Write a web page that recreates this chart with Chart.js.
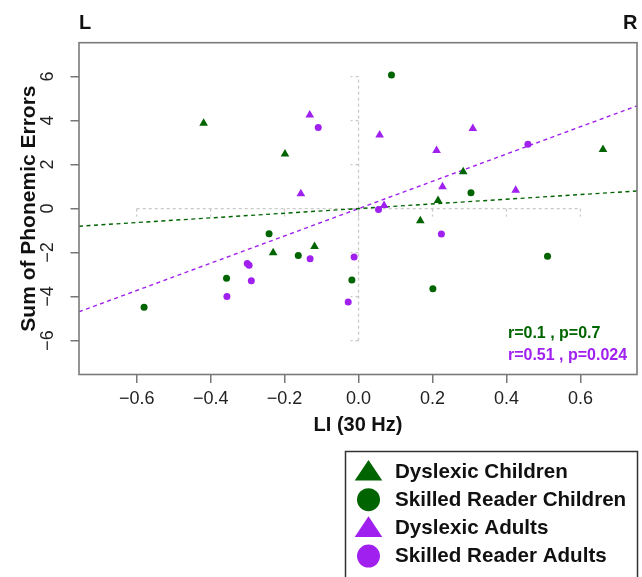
<!DOCTYPE html>
<html><head><meta charset="utf-8">
<script src="https://cdn.jsdelivr.net/npm/chart.js@4/dist/chart.umd.min.js"></script>
<style>html,body{margin:0;padding:0;background:#fff;}canvas{display:block;}</style>
</head><body>
<canvas id="c" width="642" height="577"></canvas>
<script>
// ---- data ----
const seriesLabels = ['Dyslexic Children', 'Skilled Reader Children', 'Dyslexic Adults', 'Skilled Reader Adults'];

const dysChildrenX = [-0.419, -0.199, -0.231, -0.119, 0.283, 0.215, 0.167, 0.661];
const dysChildrenY = [3.88, 2.48, -2.01, -1.72, 1.67, 0.37, -0.55, 2.69];

const skilledChildrenX = [0.089, 0.304, -0.242, -0.163, -0.357, -0.580, -0.018, 0.201, 0.511];
const skilledChildrenY = [6.07, 0.72, -1.14, -2.13, -3.16, -4.48, -3.25, -3.64, -2.16];

const dysAdultsX = [-0.132, -0.156, 0.057, 0.211, 0.309, 0.227, 0.425, 0.069];
const dysAdultsY = [4.25, 0.67, 3.34, 2.64, 3.64, 0.99, 0.83, 0.14];

const skilledAdultsX = [-0.109, 0.458, 0.054, 0.224, -0.012, -0.131, -0.301, -0.296, -0.290, -0.356, -0.028];
const skilledAdultsY = [3.69, 2.92, -0.04, -1.16, -2.20, -2.28, -2.49, -2.58, -3.28, -3.99, -4.24];

// fitted (dashed) lines, endpoints read at the plot edges
const childFitX = [-0.756, 0.753];
const childFitY = [-0.80, 0.80];
const adultFitX = [-0.756, 0.753];
const adultFitY = [-4.69, 4.67];

const xTicks = [-0.6, -0.4, -0.2, 0, 0.2, 0.4, 0.6];
const yTicks = [-6, -4, -2, 0, 2, 4, 6];
const xRange = [-0.756, 0.753];
const yRange = [-7.54, 7.54];

const statLabels = ['r=0.1 , p=0.7', 'r=0.51 , p=0.024'];
const sideLabels = ['L', 'R'];
const xTitle = 'LI (30 Hz)';
const yTitle = 'Sum of Phonemic Errors';

// ---- styling ----
const GREEN = '#006400';
const PURPLE = '#a020f0';
const FONT = "'Liberation Sans', Arial, Helvetica, sans-serif";
Chart.defaults.font.family = FONT;

const zip = (xs, ys) => xs.map((x, i) => ({x: x, y: ys[i]}));
const minus = s => s.replace('-', '\u2212');

const pointSets = [
  {label: seriesLabels[0], data: zip(dysChildrenX, dysChildrenY), color: GREEN, style: 'triangle'},
  {label: seriesLabels[1], data: zip(skilledChildrenX, skilledChildrenY), color: GREEN, style: 'circle'},
  {label: seriesLabels[2], data: zip(dysAdultsX, dysAdultsY), color: PURPLE, style: 'triangle'},
  {label: seriesLabels[3], data: zip(skilledAdultsX, skilledAdultsY), color: PURPLE, style: 'circle'}
];

const datasets = pointSets.map(s => ({
  type: 'scatter', label: s.label, data: s.data,
  pointStyle: s.style, pointRadius: s.style === 'triangle' ? 5 : 3.5,
  backgroundColor: s.color, borderColor: s.color, pointBorderWidth: 0,
  showLine: false, order: 1
}));
datasets.push({
  type: 'scatter', label: 'childFit', data: zip(childFitX, childFitY), showLine: true,
  borderColor: GREEN, borderWidth: 1.4, borderDash: [4, 3.5], pointRadius: 0, order: 2
});
datasets.push({
  type: 'scatter', label: 'adultFit', data: zip(adultFitX, adultFitY), showLine: true,
  borderColor: PURPLE, borderWidth: 1.4, borderDash: [4, 3.5], pointRadius: 0, order: 2
});

function line(ctx, x1, y1, x2, y2) { ctx.beginPath(); ctx.moveTo(x1, y1); ctx.lineTo(x2, y2); ctx.stroke(); }

const decor = {
  id: 'decor',
  beforeDatasetsDraw(chart) {
    const {ctx} = chart; const xs = chart.scales.x, ys = chart.scales.y;
    ctx.save();
    ctx.strokeStyle = '#c9c9c9'; ctx.lineWidth = 1.3; ctx.setLineDash([3, 3]);
    const x0 = xs.getPixelForValue(0), y0 = ys.getPixelForValue(0);
    line(ctx, x0, ys.getPixelForValue(yTicks[0]), x0, ys.getPixelForValue(yTicks[yTicks.length - 1]));
    yTicks.forEach(v => { const p = ys.getPixelForValue(v); line(ctx, x0, p, x0 - 8, p); });
    line(ctx, xs.getPixelForValue(xTicks[0]), y0, xs.getPixelForValue(xTicks[xTicks.length - 1]), y0);
    xTicks.forEach(v => { const p = xs.getPixelForValue(v); line(ctx, p, y0, p, y0 + 8); });
    ctx.restore();
  },
  afterDraw(chart) {
    const {ctx, chartArea: a} = chart; const xs = chart.scales.x, ys = chart.scales.y;
    ctx.save();
    // plot box
    ctx.strokeStyle = '#7a7a7a'; ctx.lineWidth = 1.6; ctx.setLineDash([]);
    ctx.strokeRect(a.left, a.top, a.right - a.left, a.bottom - a.top);
    // L / R
    ctx.fillStyle = '#111'; ctx.font = 'bold 20px ' + FONT; ctx.textBaseline = 'alphabetic';
    ctx.textAlign = 'left'; ctx.fillText(sideLabels[0], a.left, 28.5);
    ctx.textAlign = 'right'; ctx.fillText(sideLabels[1], a.right + 0.5, 28.5);
    // stats
    ctx.font = 'bold 16px ' + FONT; ctx.textAlign = 'left'; ctx.textBaseline = 'middle';
    ctx.fillStyle = GREEN; ctx.fillText(statLabels[0], xs.getPixelForValue(0.404), ys.getPixelForValue(-5.66));
    ctx.fillStyle = PURPLE; ctx.fillText(statLabels[1], xs.getPixelForValue(0.404), ys.getPixelForValue(-6.69));
    // legend
    const bx = 345.5, by = 451.5;
    ctx.strokeStyle = '#333'; ctx.lineWidth = 1.5;
    ctx.strokeRect(bx, by, 292, 140);
    ctx.font = 'bold 20.6px ' + FONT; ctx.textBaseline = 'middle'; ctx.textAlign = 'left';
    pointSets.forEach((s, i) => {
      const cy = 471.5 + i * 28.2, cx = 368.5;
      ctx.fillStyle = s.color; ctx.beginPath();
      if (s.style === 'triangle') {
        const r = 14.5;
        ctx.moveTo(cx, cy - r * 0.8);
        ctx.lineTo(cx + r * 0.95, cy + r * 0.62);
        ctx.lineTo(cx - r * 0.95, cy + r * 0.62);
        ctx.closePath();
      } else {
        ctx.arc(cx, cy, 11.5, 0, Math.PI * 2);
      }
      ctx.fill();
      ctx.fillStyle = '#111';
      ctx.fillText(s.label, 395, cy + 0.5);
    });
    ctx.restore();
  }
};

new Chart(document.getElementById('c'), {
  type: 'scatter',
  data: {datasets: datasets},
  options: {
    responsive: false, animation: false, events: [],
    devicePixelRatio: 1,
    layout: {padding: {top: 42.7, right: 4, bottom: 0, left: 0}},
    plugins: {legend: {display: false}, tooltip: {enabled: false}},
    scales: {
      x: {
        type: 'linear', position: 'bottom', min: xRange[0], max: xRange[1],
        afterBuildTicks: s => { s.ticks = xTicks.map(v => ({value: v})); },
        afterFit: s => { s.height = 577 - 374.5; },
        ticks: {
          autoSkip: false, maxRotation: 0, minRotation: 0, padding: 5,
          color: '#222', font: {size: 18},
          callback: v => v === 0 ? '0.0' : minus(v.toFixed(1))
        },
        grid: {drawOnChartArea: false, drawTicks: true, tickLength: 8.5, color: '#777', lineWidth: 1.5},
        border: {display: false},
        title: {display: true, text: xTitle, color: '#111', font: {size: 20, weight: 'bold'}, padding: {top: 0, bottom: 139.2}}
      },
      y: {
        type: 'linear', position: 'left', min: yRange[0], max: yRange[1],
        afterBuildTicks: s => { s.ticks = yTicks.map(v => ({value: v})); },
        afterFit: s => { s.width = 79; },
        ticks: {
          autoSkip: false, minRotation: 90, maxRotation: 90, crossAlign: 'center', padding: 11.9,
          color: '#222', font: {size: 18},
          callback: v => minus(String(v))
        },
        grid: {drawOnChartArea: false, drawTicks: true, tickLength: 8.5, color: '#777', lineWidth: 1.5},
        border: {display: false},
        title: {display: true, text: yTitle, color: '#111', font: {size: 21, weight: 'bold'}, padding: {top: 17, bottom: 0}}
      }
    }
  },
  plugins: [decor]
});
</script>
</body></html>
